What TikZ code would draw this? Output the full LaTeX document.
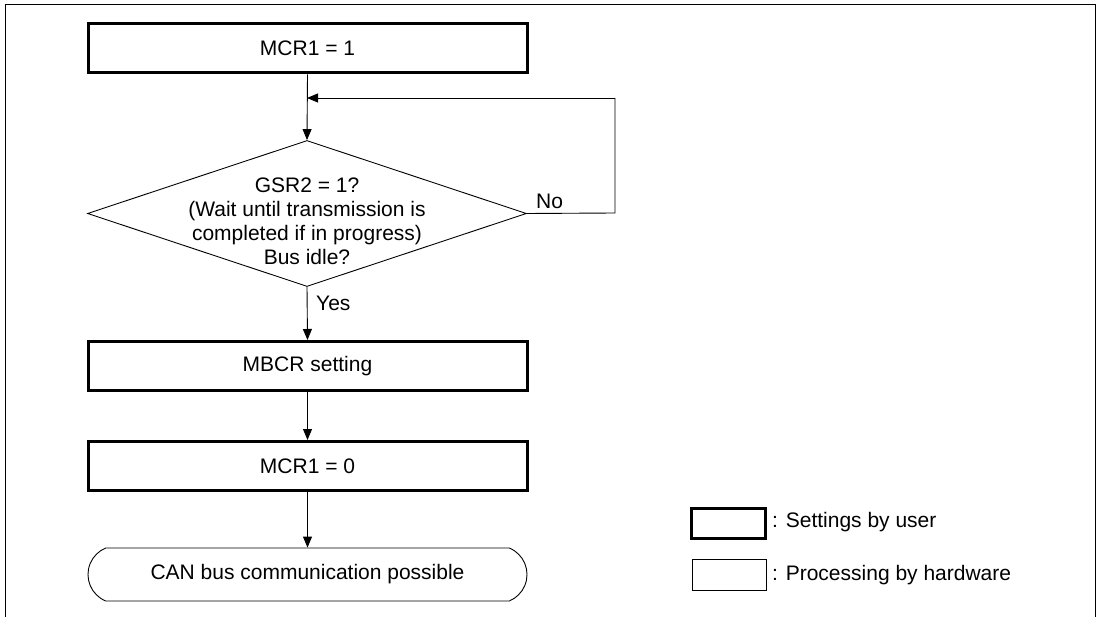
\documentclass[tikz,border=0pt]{standalone}
\usepackage{fontspec}
\setmainfont{Liberation Sans}
\usetikzlibrary{arrows.meta,shapes.geometric,shapes.misc}
\begin{document}
\begin{tikzpicture}[x=1pt,y=-1pt,
  txt/.style={font=\fontsize{21}{24}\selectfont, align=center, inner sep=0pt},
  userbox/.style={draw, line width=3pt, minimum width=439pt, minimum height=49pt, txt},
  hwterm/.style={draw, line width=0.9pt, rounded rectangle, rounded rectangle arc length=135, minimum width=439pt, minimum height=53pt, txt},
  dec/.style={draw, line width=0.9pt, diamond, aspect=2.95, minimum width=439pt, minimum height=146pt, txt},
  flow/.style={line width=0.9pt, -{Triangle[length=11pt,width=9pt]}},
  plain/.style={line width=0.9pt},
  lab/.style={font=\fontsize{21}{24}\selectfont, inner sep=0pt}
]
\useasboundingbox (0,0) rectangle (1100,617);
\draw[line width=1pt] (5,617) -- (5,5) -- (1095,5) -- (1095,617);

\node[userbox] (m1) at (307.5,48.5) {MCR1 = 1};
\node[dec, inner sep=0pt] (d) at (307,213.5) {};
\node[txt] (dt) at (307,221.5) {GSR2 = 1?\\(Wait until transmission is\\completed if in progress)\\Bus idle?};
\node[userbox] (mb) at (307.5,366) {MBCR setting};
\node[userbox] (m0) at (307.5,466) {MCR1 = 0};
\node[hwterm] (end) at (307.5,574.5) {CAN bus communication possible};

\coordinate (j) at (307,98);
\coordinate (c1) at (615,213);
\coordinate (c2) at (615,98);

\draw[flow] (m1.south) -- (d.north);
\draw[plain] (d.east) -- (c1) -- (c2);
\draw[flow] (c2) -- (j);
\draw[flow] (d.south) -- (mb.north);
\draw[flow] (mb.south) -- (m0.north);
\draw[flow] (m0.south) -- (end.north);

\node[lab, anchor=west] (no) at (536,201) {No};
\node[lab, anchor=west] (yes) at (316,303) {Yes};

\node[draw, line width=3pt, minimum width=74pt, minimum height=30pt, inner sep=0pt] (lg1) at (728.5,523) {};
\node[draw, line width=0.9pt, minimum width=74pt, minimum height=31pt, inner sep=0pt] (lg2) at (729,574.5) {};
\node[lab, anchor=west] (lt1) at (772,522) {: Settings by user};
\node[lab, anchor=west] (lt2) at (772,575) {: Processing by hardware};
\end{tikzpicture}
\end{document}
